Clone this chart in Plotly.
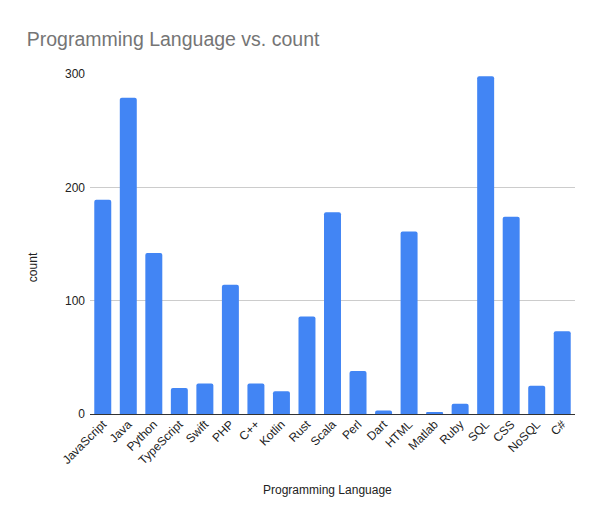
import plotly.graph_objects as go

languages = ["JavaScript", "Java", "Python", "TypeScript", "Swift", "PHP", "C++", "Kotlin",
             "Rust", "Scala", "Perl", "Dart", "HTML", "Matlab", "Ruby", "SQL", "CSS", "NoSQL", "C#"]
counts = [189, 279, 142, 23, 27, 114, 27, 20, 86, 178, 38, 3, 161, 1, 9, 298, 174, 25, 73]
y_ticks = [0, 100, 200, 300]

font_family = "Liberation Sans, Arial, sans-serif"

fig = go.Figure(go.Bar(
    x=languages, y=counts,
    marker=dict(color="#4285F4", line=dict(width=0), cornerradius=2),
))

fig.update_layout(
    width=604, height=524,
    margin=dict(l=82, r=37, t=66, b=118),
    paper_bgcolor="white", plot_bgcolor="white",
    bargap=0.335,
    showlegend=False,
    font=dict(family=font_family, size=12, color="#222222"),
    title=dict(text="Programming Language vs. count", x=0.031, xanchor="left",
               y=0.94, yanchor="middle",
               font=dict(family=font_family, size=19.5, color="#757575")),
    xaxis=dict(
        tickangle=-45, tickfont=dict(size=12, color="#222222"),
        showgrid=False, showline=False, ticks="", zeroline=False, automargin=False,
    ),
    yaxis=dict(
        range=[0, 300], tickvals=y_ticks, tickfont=dict(size=12, color="#222222"),
        showgrid=True, gridcolor="#cccccc", gridwidth=1,
        zeroline=True, zerolinecolor="#333333", zerolinewidth=1,
        showline=False, ticks="", ticklabelstandoff=4, automargin=False,
    ),
    annotations=[
        dict(text="Programming Language", xref="paper", yref="paper", x=0.489, y=-0.2235,
             xanchor="center", yanchor="middle", showarrow=False,
             font=dict(family=font_family, size=12, color="#222222")),
        dict(text="count", xref="paper", yref="paper", x=-0.1175, y=0.432, textangle=-90,
             xanchor="center", yanchor="middle", showarrow=False,
             font=dict(family=font_family, size=12, color="#222222")),
    ],
)

fig.write_html("out.html")
